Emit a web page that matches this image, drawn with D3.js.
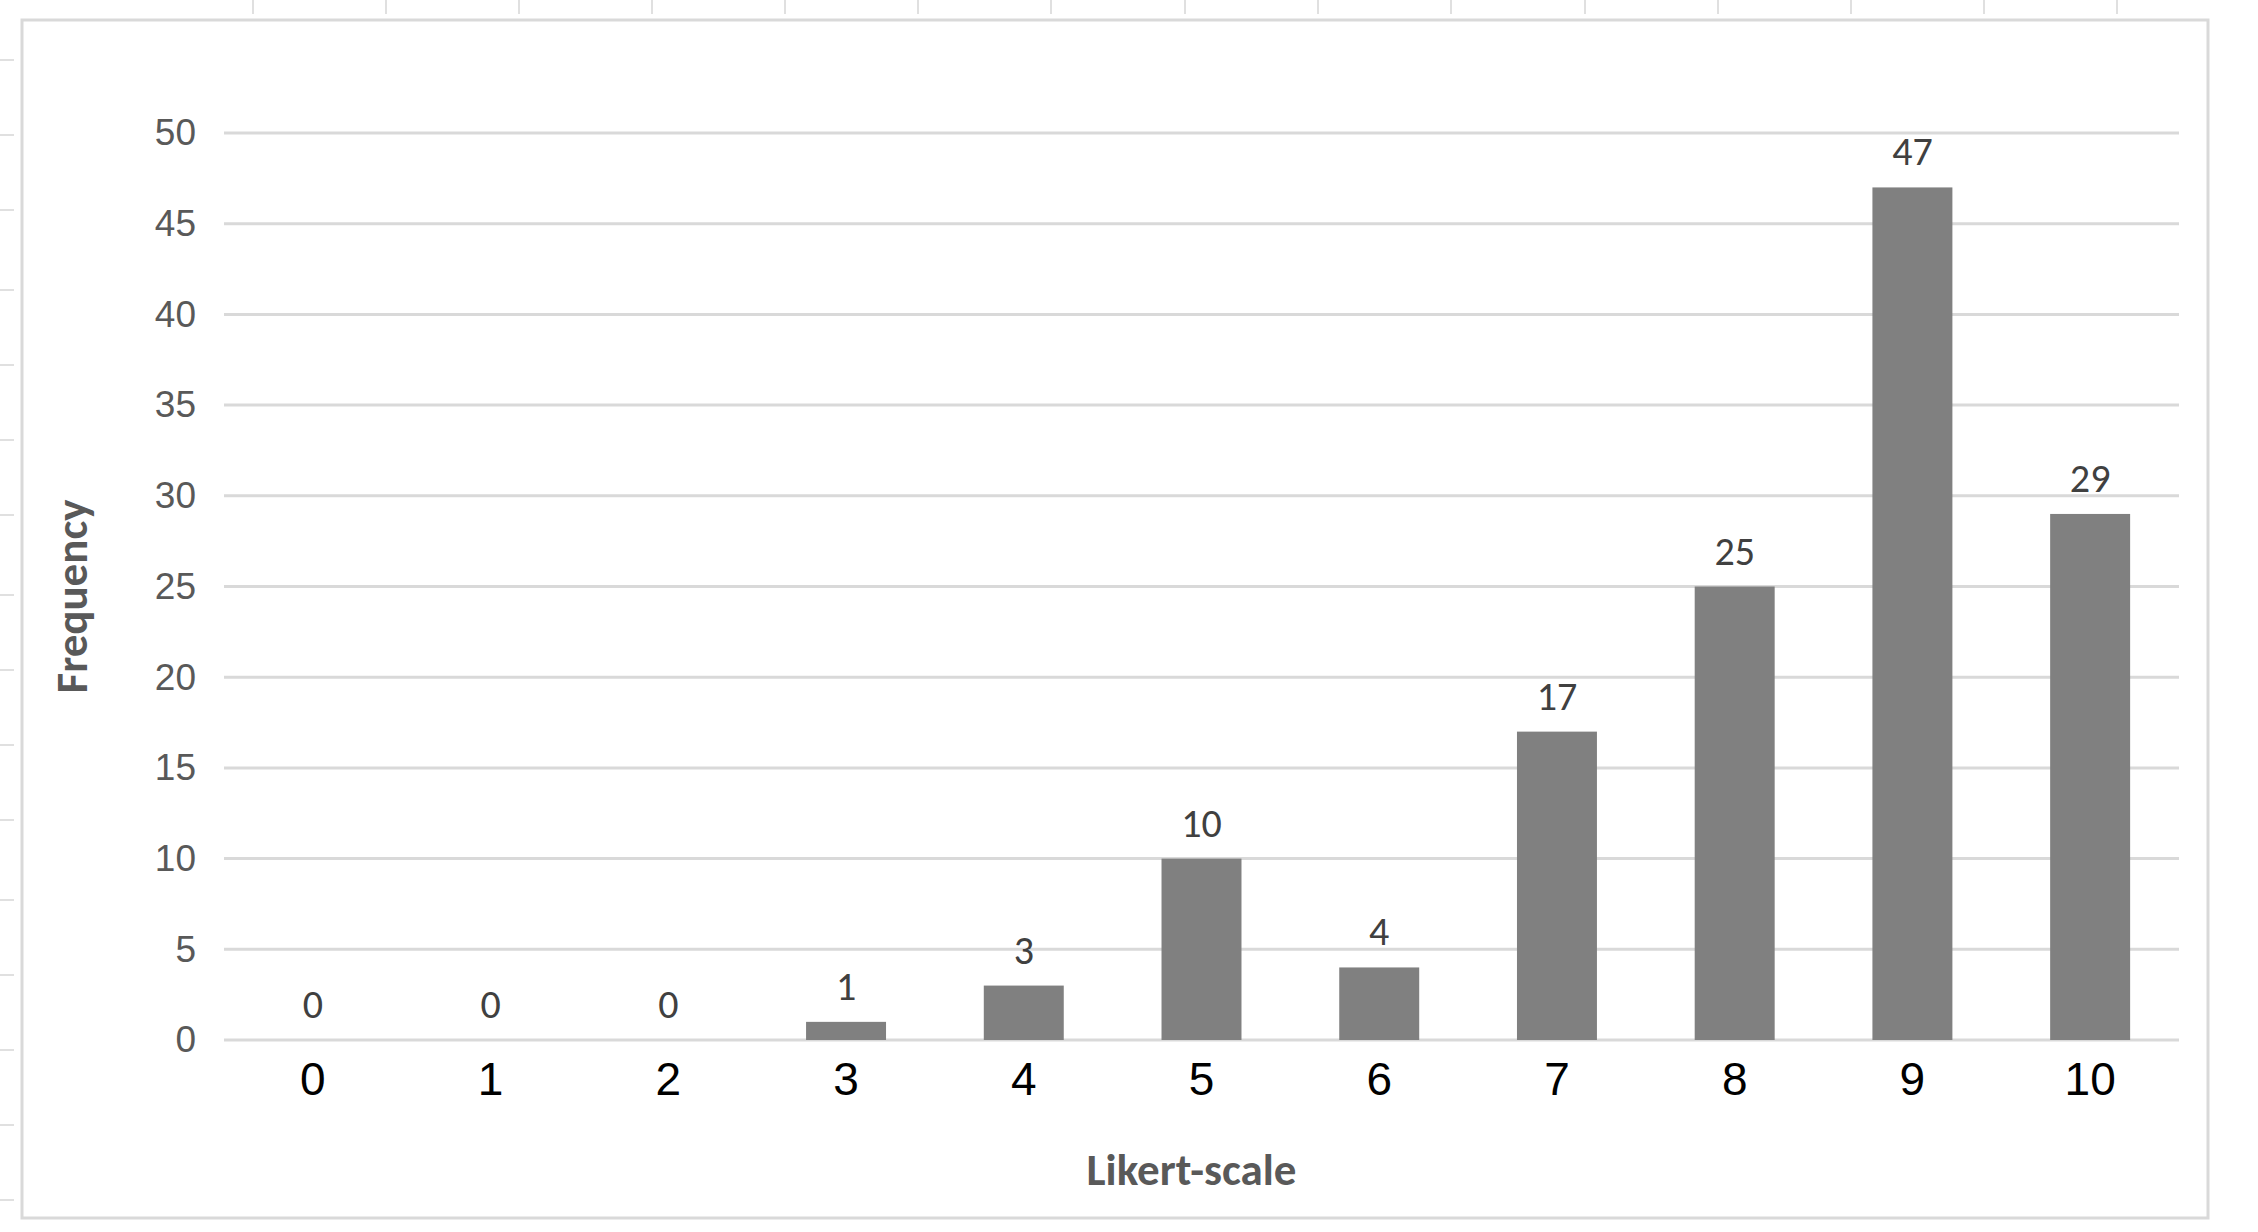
<!DOCTYPE html>
<html><head><meta charset="utf-8">
<script src="https://cdn.jsdelivr.net/npm/d3@7"></script>
<style>body{margin:0;background:#fff}</style>
</head><body><div id="chart"></div>
<script>
const categories = ["0","1","2","3","4","5","6","7","8","9","10"];
const values = [0,0,0,1,3,10,4,17,25,47,29];
const yTicks = [0,5,10,15,20,25,30,35,40,45,50];

const W = 2258, H = 1232;
const plotLeft = 224, plotRight = 2179, plotTop = 133, plotBottom = 1040;

const svg = d3.select("#chart").append("svg").attr("width", W).attr("height", H)
  .style("font-family", "Calibri, Carlito, 'Liberation Sans', sans-serif");

// faint spreadsheet cell ticks and outer frame
[253,386,519,652,785,918,1051,1185,1318,1451,1585,1718,1851,1984,2117].forEach(x =>
  svg.append("line").attr("x1", x).attr("x2", x).attr("y1", 0).attr("y2", 14).attr("stroke", "#e0e0e0").attr("stroke-width", 2));
[60,135,210,290,365,440,515,595,670,745,820,900,975,1050,1125,1200].forEach(y =>
  svg.append("line").attr("x1", 0).attr("x2", 14).attr("y1", y).attr("y2", y).attr("stroke", "#e0e0e0").attr("stroke-width", 2));
svg.append("rect").attr("x", 22).attr("y", 20).attr("width", 2186).attr("height", 1198)
  .attr("fill", "none").attr("stroke", "#d9d9d9").attr("stroke-width", 3);

const x = d3.scaleBand().domain(categories).range([plotLeft, plotRight]).paddingInner(0.55).paddingOuter(0.275);
const y = d3.scaleLinear().domain([0, 50]).range([plotBottom, plotTop]);

// gridlines
svg.append("g").selectAll("line").data(yTicks).join("line")
  .attr("x1", plotLeft).attr("x2", plotRight).attr("y1", d => y(d)).attr("y2", d => y(d))
  .attr("stroke", "#d9d9d9").attr("stroke-width", 3);

// y axis
const yAxis = svg.append("g").attr("transform", `translate(${plotLeft},0)`)
  .call(d3.axisLeft(y).tickValues(yTicks).tickSize(0).tickPadding(28));
yAxis.select(".domain").remove();
yAxis.selectAll("text").attr("font-size", 37).attr("fill", "#595959").style("font-family", "inherit");

// x axis
const xAxis = svg.append("g").attr("transform", `translate(0,${plotBottom})`)
  .call(d3.axisBottom(x).tickSize(0).tickPadding(22));
xAxis.select(".domain").remove();
xAxis.selectAll("text").attr("font-size", 46).attr("fill", "#000").style("font-family", "inherit");

// bars
svg.append("g").selectAll("rect").data(values).join("rect")
  .attr("x", (d, i) => x(categories[i]))
  .attr("y", d => y(d))
  .attr("width", x.bandwidth())
  .attr("height", d => plotBottom - y(d))
  .attr("fill", "#808080");

// data labels
svg.append("g").selectAll("text").data(values).join("text")
  .attr("x", (d, i) => x(categories[i]) + x.bandwidth() / 2)
  .attr("y", d => y(d) - 22)
  .attr("text-anchor", "middle").attr("font-size", 40).attr("fill", "#404040")
  .text(d => d);

// axis titles
svg.append("text").attr("x", (plotLeft + plotRight) / 2 - 10).attr("y", 1185)
  .attr("text-anchor", "middle").attr("font-size", 45).attr("font-weight", "bold").attr("fill", "#595959")
  .text("Likert-scale");
svg.append("text").attr("transform", `translate(87,${(plotTop + plotBottom) / 2 + 10}) rotate(-90)`)
  .attr("text-anchor", "middle").attr("font-size", 45).attr("font-weight", "bold").attr("fill", "#595959")
  .text("Frequency");
</script></body></html>
